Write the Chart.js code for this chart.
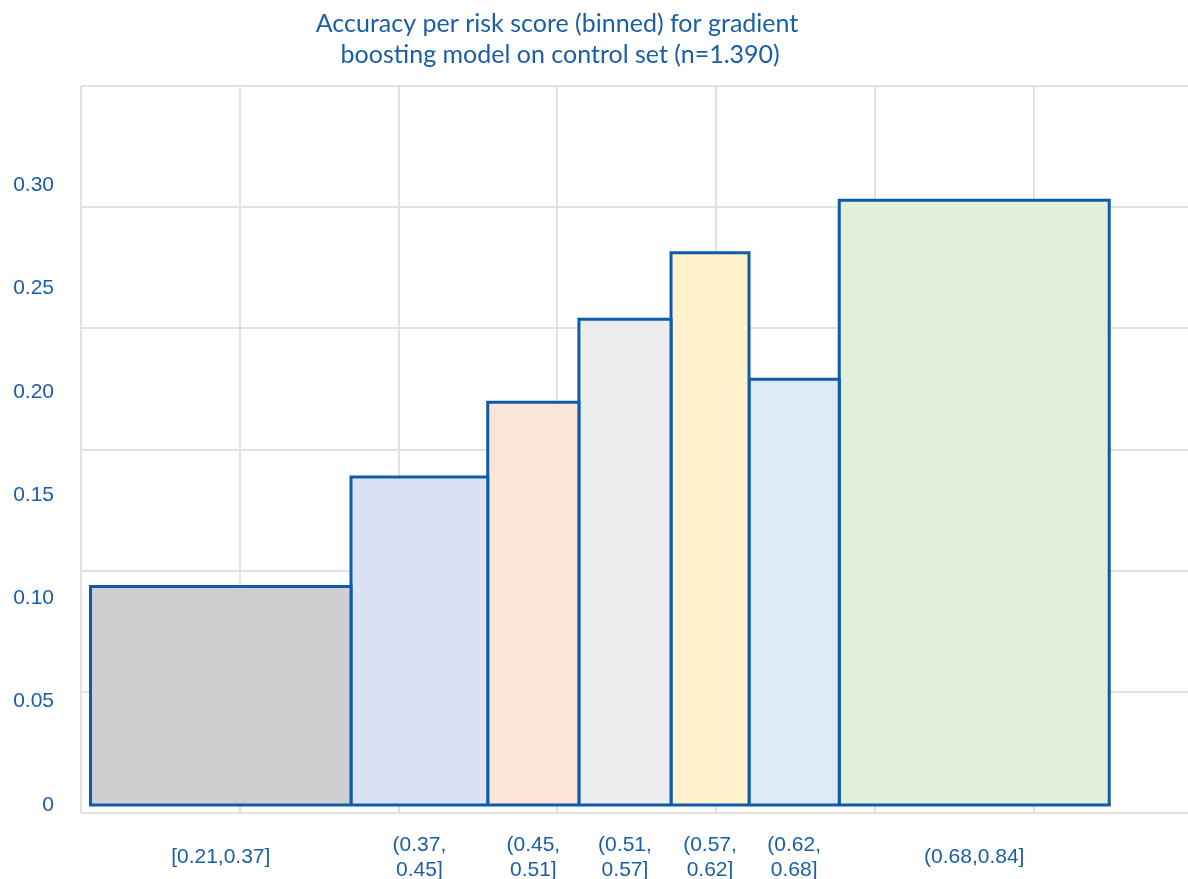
<!DOCTYPE html>
<html>
<head>
<meta charset="utf-8">
<script src="https://cdn.jsdelivr.net/npm/chart.js@4.4.1/dist/chart.umd.min.js"></script>
<style>
  html, body { margin: 0; padding: 0; background: #ffffff; overflow: hidden; }
  #wrap { position: relative; width: 1188px; height: 896px; }
</style>
</head>
<body>
<div id="wrap"><canvas id="chart" width="1188" height="896"></canvas></div>
<script>
// Risk-score bins: edges of each bin, accuracy inside each bin
const binEdges = [0.2060, 0.3700, 0.4561, 0.5135, 0.5715, 0.6206, 0.6774, 0.8474];
const accuracy = [0.1057, 0.1588, 0.1949, 0.2351, 0.2673, 0.2061, 0.2927];
const binLabels = [
  ['[0.21,0.37]'],
  ['(0.37,', '0.45]'],
  ['(0.45,', '0.51]'],
  ['(0.51,', '0.57]'],
  ['(0.57,', '0.62]'],
  ['(0.62,', '0.68]'],
  ['(0.68,0.84]']
];
const binColors = ['#d0cecf', '#dae3f3', '#fbe5d6', '#ededed', '#fff2cc', '#deebf7', '#e2efda'];
const yTickValues = [0, 0.05, 0.10, 0.15, 0.20, 0.25, 0.30];
const xGridValues = [0.2, 0.3, 0.4, 0.5, 0.6, 0.7, 0.8];
const titleLines = ['Accuracy per risk score (binned) for gradient', ' boosting model on control set (n=1.390)'];

const EDGE = '#0e5ca9';
const TEXT = '#1b5ea8';
const GRID = '#e1e1e1';
const tickFont = { family: 'Liberation Sans', size: 21, lineHeight: 1.2 };

// one filled outline per bin, spanning its two edges
const datasets = accuracy.map((v, i) => ({
  data: [
    { x: binEdges[i], y: 0 },
    { x: binEdges[i], y: v },
    { x: binEdges[i + 1], y: v },
    { x: binEdges[i + 1], y: 0 }
  ],
  xAxisID: 'x',
  yAxisID: 'y',
  backgroundColor: binColors[i],
  borderColor: EDGE,
  borderWidth: 3,
  borderJoinStyle: 'miter',
  fill: 'origin',
  pointRadius: 0,
  tension: 0
}));

// common base line under all bins
datasets.push({
  data: [
    { x: binEdges[0], y: 0 },
    { x: binEdges[binEdges.length - 1], y: 0 }
  ],
  xAxisID: 'x',
  yAxisID: 'y',
  borderColor: EDGE,
  borderWidth: 3,
  borderCapStyle: 'square',
  fill: false,
  pointRadius: 0,
  order: -1
});

const binCenters = binEdges.slice(0, -1).map((e, i) => (e + binEdges[i + 1]) / 2);

// move the heading's centre a bit left of the canvas centre
const headingOffset = {
  id: 'headingOffset',
  afterLayout(chart) {
    const t = chart.titleBlock;
    if (t) t.right = 2 * 557 - t.left;
  }
};

new Chart(document.getElementById('chart'), {
  type: 'line',
  data: { datasets },
  options: {
    responsive: false,
    animation: false,
    events: [],
    layout: { padding: { left: 13, right: 0, top: 0, bottom: 0 } },
    plugins: {
      legend: { display: false },
      tooltip: { enabled: false },
      title: {
        display: true,
        text: titleLines,
        color: TEXT,
        font: { family: 'Lato', size: 25, weight: 'normal', lineHeight: 1.25 },
        padding: { top: 8.4, bottom: 15.1 }
      }
    },
    scales: {
      x: {
        type: 'linear',
        position: 'bottom',
        min: 0.2,
        max: 0.897,
        afterBuildTicks: s => { s.ticks = xGridValues.map(v => ({ value: v })); },
        ticks: { display: false },
        grid: { color: GRID, lineWidth: 2, drawTicks: false },
        border: { display: false }
      },
      xl: {
        type: 'linear',
        position: 'bottom',
        min: 0.2,
        max: 0.897,
        afterBuildTicks: s => { s.ticks = binCenters.map(v => ({ value: v })); },
        afterFit: s => { s.height = 83; },
        ticks: {
          autoSkip: false,
          maxRotation: 0,
          minRotation: 0,
          crossAlign: 'center',
          padding: 32,
          color: TEXT,
          font: tickFont,
          callback: (v, i) => binLabels[i]
        },
        grid: { display: false, drawTicks: false },
        border: { display: false }
      },
      y: {
        type: 'linear',
        position: 'left',
        min: -0.00387,
        max: 0.348,
        afterBuildTicks: s => { s.ticks = yTickValues.map(v => ({ value: v })); },
        afterFit: s => { s.width = 68; },
        ticks: {
          padding: 27,
          color: TEXT,
          font: tickFont,
          callback: v => (v === 0 ? '0' : v.toFixed(2))
        },
        grid: { display: false, drawTicks: false },
        border: { display: false }
      },
      yg: {
        type: 'linear',
        position: 'left',
        min: 0,
        max: 6,
        afterBuildTicks: s => { s.ticks = [0, 1, 2, 3, 4, 5, 6].map(v => ({ value: v })); },
        ticks: { display: false },
        grid: { color: GRID, lineWidth: 2, drawTicks: false },
        border: { display: false }
      }
    }
  },
  plugins: [headingOffset]
});
</script>
</body>
</html>
